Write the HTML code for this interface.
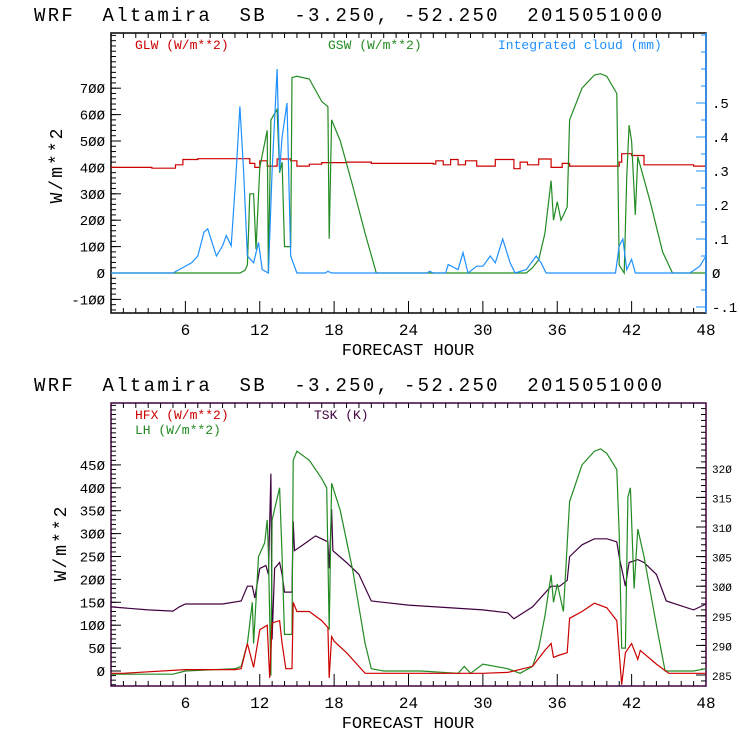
<!DOCTYPE html>
<html><head><meta charset="utf-8"><style>
body{margin:0;background:#fff}
svg{display:block}
text{font-family:"Liberation Mono",monospace}
</style></head><body>
<svg id="c" width="740" height="740" xmlns="http://www.w3.org/2000/svg"></svg>
<script>
// ---- data (hours, values) ----
const gswH=[0,10.4,10.8,11,11.2,11.5,11.7,12,12.6,12.7,12.9,13.4,13.6,13.8,14.0,14.5,14.6,15,16,17,17.5,17.6,17.8,18.5,19.5,20.5,21.4,33.5,34,34.5,35,35.5,35.7,36,36.3,36.8,37,38,39,39.5,40,40.8,41,41.4,41.6,41.8,42,42.3,42.5,43.5,44.5,45.3,48];
const gswV=[0,0,10,30,300,300,90,400,540,0,580,620,380,420,100,100,740,745,735,650,630,130,580,500,330,150,0,0,20,50,150,350,200,270,200,250,580,700,750,755,745,680,30,0,360,560,500,220,440,270,80,0,0];
const cldH=[0,5,5.5,6.5,7,7.5,7.8,8.5,9,9.3,9.7,10.1,10.4,10.7,11,11.5,11.9,12.2,12.7,13,13.4,13.6,13.8,14.2,14.5,15,17.3,17.5,17.8,25.5,25.7,26,27,27.2,28,28.4,28.8,29.5,30,30.6,31,31.6,32.2,32.6,33.5,34.3,34.7,35.1,40.7,41,41.3,41.6,42,42.3,46.7,47.5,48];
const cldV=[0,0,0.01,0.03,0.05,0.12,0.13,0.05,0.08,0.11,0.08,0.3,0.49,0.3,0.05,0.03,0.09,0.01,0,0.3,0.6,0.3,0.4,0.5,0.05,0,0,0.005,0,0,0.005,0,0,0.025,0.01,0.06,0,0.02,0.02,0.05,0.03,0.1,0.03,0,0.01,0.05,0.03,0,0,0.08,0.1,0.01,0.04,0,0,0.02,0.05];
const glwH=[0,3.3,5,5.2,5.8,7,10.8,11.2,11.6,12,12.6,13.4,14.5,15,16,17,19,21,26,26.2,26.8,27.4,28,28.6,29.5,31,32.5,33,33.6,34.5,35.5,36.4,37,41,41.2,42,42.5,43,47,48];
const glwV=[400,397,397,410,430,433,433,415,400,425,405,432,425,405,412,418,420,415,413,425,410,430,410,425,405,430,395,420,410,432,400,415,405,420,452,445,445,410,405,430];
const hfxH=[0,1,6,10,10.5,11,11.5,12,12.6,12.8,13,13.6,13.8,14.1,14.6,14.7,15,16,17,17.5,17.6,17.8,18,19,20,20.5,25,30,32,34,35,35.5,35.7,36.2,36.8,37,38,39,40,40.8,41,41.2,41.5,42,42.5,42.7,44,45,48];
const hfxV=[-5,-5,3,3,5,60,8,90,100,-15,105,110,60,5,5,150,130,130,110,95,-15,75,65,40,10,-5,-5,-5,-3,10,45,60,30,35,40,115,130,148,138,110,40,-30,40,60,25,45,15,-5,-5];
const lhH=[0,5,6,10,10.5,11,11.4,11.5,11.9,12.4,12.6,12.7,12.9,13,13.6,13.8,14,14.6,14.7,15,16,17,17.4,17.6,17.8,18.5,19.5,20.5,21,22,25,28,28.5,29,30,32,33,34,34.5,35,35.5,35.7,36,36.5,37,38,39,39.5,40,40.8,41,41.2,41.5,41.7,41.9,42.2,42.5,43,44,44.7,47,48];
const lhV=[-7,-7,0,5,10,60,150,60,250,280,330,260,-10,330,400,250,80,80,460,480,460,420,400,90,410,350,220,60,5,0,0,-5,10,-5,15,5,-5,10,50,120,210,150,190,130,370,450,480,485,475,440,300,50,50,380,400,180,310,250,100,0,0,5];
const tskH=[0,3,5,5.5,6,9,10.5,11,11.4,11.6,12,12.5,12.7,12.9,13,13.2,13.6,13.8,14,14.6,14.7,14.8,15.5,16.5,17.5,17.6,17.8,17.9,19,20,21,24,30,32,32.5,34,35.5,36.2,36.8,37,38,39,40,40.8,41,41.5,41.8,42.5,43,44,44.8,47,48];
const tskV=[296.5,296,295.8,296.5,297,297,297.5,300,300,298,303,303.5,302,319,291,303,304,302,299,299,311,306,307,308.5,307.5,303,313,306,304,302,297.5,296.8,296,295.5,294.5,296.5,300,300,301,305,307,308,308,307.5,305,300,304,304.5,304,302,297.5,296,297];
const topLeftTicks=[-100,0,100,200,300,400,500,600,700];
const topRightTicks=[-0.1,0,0.1,0.2,0.3,0.4,0.5];
const botLeftTicks=[0,50,100,150,200,250,300,350,400,450];
const botRightTicks=[285,290,295,300,305,310,315,320];
const xTicks=[6,12,18,24,30,36,42,48];

const svg=document.getElementById('c');
const NS='http://www.w3.org/2000/svg';
function add(tag,attrs,parent){const e=document.createElementNS(NS,tag);for(const k in attrs)e.setAttribute(k,attrs[k]);(parent||svg).appendChild(e);return e;}
const X0=111,X1=706;
const xs=h=>X0+(X1-X0)*h/48;
function stepPath(H,V,fy){let d='';for(let i=0;i<H.length;i++){const x=xs(H[i]).toFixed(1),y=fy(V[i]).toFixed(1);if(i==0)d='M'+x+' '+y;else{d+=' H'+x+' V'+y;}if(i==H.length-1)d+=' H'+xs(48).toFixed(1);}return d;}
function linePath(H,V,fy){return H.map((h,i)=>(i?'L':'M')+xs(h).toFixed(1)+' '+fy(V[i]).toFixed(1)).join(' ');}

function panel(o){
  const g=add('g',{});
  
  
  const t=add('text',{x:34,y:o.top-12,'font-size':19,fill:'#000','letter-spacing':'2.3',style:'white-space:pre'},g);
  t.textContent='WRF  Altamira  SB  -3.250, -52.250  2015051000';
  
  const box=add('rect',{x:X0,y:o.top,width:X1-X0,height:o.bot-o.top,fill:'none',stroke:o.boxc,'stroke-width':1.5},g);
  
  for(let h=1;h<48;h++){const x=xs(h);const L=h%6==0?12:5;
    add('line',{x1:x,x2:x,y1:o.bot,y2:o.bot-L,stroke:'#000'},g);
    add('line',{x1:x,x2:x,y1:o.top,y2:o.top+5,stroke:'#000'},g);}
  xTicks.forEach(h=>{const t=add('text',{x:xs(h),y:o.bot+22,'font-size':16,'text-anchor':'middle'},g);t.textContent=h;
    });
  const xt=add('text',{x:408,y:o.bot+42,'font-size':17,'text-anchor':'middle'},g);xt.textContent='FORECAST HOUR';
  
  const yt=add('text',{x:0,y:0,'font-size':18,'text-anchor':'middle','letter-spacing':'2',transform:`translate(${o.ytx},${o.yty}) rotate(-90)`},g);yt.textContent='W/m**2';
  
  o.lt.forEach(v=>{const y=o.yl(v);add('line',{x1:X0,x2:X0+10,y1:y,y2:y,stroke:'#000'},g);
    const t=add('text',{x:X0-6,y:y+5,'font-size':14,'text-anchor':'end'},g);t.textContent=String(v).replace(/0/g,'Ø');
    });
  for(let v=o.lmin;v<=o.lmax;v+=o.lminor){const y=o.yl(v);if(y>o.top&&y<o.bot)add('line',{x1:X0,x2:X0+5,y1:y,y2:y,stroke:'#000'},g);}
  o.rt.forEach(v=>{const y=o.yr(v);add('line',{x1:X1-10,x2:X1,y1:y,y2:y,stroke:o.rc},g);
    const t=add('text',{x:X1+6,y:y+5,'font-size':o.rfs,fill:'#000'},g);t.textContent=o.rfmt(v);
    });
  for(let v=o.rmin;v<=o.rmax+1e-9;v+=o.rminor){const y=o.yr(v);if(y>o.top&&y<o.bot)add('line',{x1:X1-5,x2:X1,y1:y,y2:y,stroke:o.rc},g);}
  o.series.forEach(s=>{const p=add('path',{d:s.d,fill:'none',stroke:s.c,'stroke-width':1.2},g);
    });
  o.legend.forEach(l=>{const t=add('text',{x:l.x,y:l.y,'font-size':13,fill:l.c,'font-family':'Liberation Serif'},g);t.textContent=l.t;
    });
}
const tyl=v=>273-v*0.264, tyr=v=>273-v*340;
panel({name:'top-chart',top:33,bot:313,boxc:'#000',yl:tyl,yr:tyr,lt:topLeftTicks,rt:topRightTicks,lmin:-140,lmax:900,lminor:20,rmin:-0.1,rmax:0.7,rminor:0.05,rc:'#1e90ff',rfs:14,
 rfmt:v=>v==0?'Ø':String(v).replace('0.','.'),ytx:62,yty:165,
 series:[{name:'glw-line',c:'#cc0000',d:stepPath(glwH,glwV,tyl)},{name:'gsw-line',c:'#228b22',d:linePath(gswH,gswV,tyl)},{name:'cloud-line',c:'#1e90ff',d:linePath(cldH,cldV,tyr)}],
 legend:[{x:135,y:49,c:'#cc0000',t:'GLW (W/m**2)'},{x:328,y:49,c:'#228b22',t:'GSW (W/m**2)'},{x:498,y:49,c:'#1e90ff',t:'Integrated cloud (mm)'}]});
add('line',{x1:X1,x2:X1,y1:33,y2:313,stroke:'#1e90ff','stroke-width':1.5});
const byl=v=>671-v*0.458, byr=v=>675-(v-285)*5.92;
panel({name:'bottom-chart',top:403,bot:686,boxc:'#400040',yl:byl,yr:byr,lt:botLeftTicks,rt:botRightTicks,lmin:-30,lmax:600,lminor:10,rmin:283,rmax:330,rminor:1,rc:'#000',rfs:11,
 rfmt:v=>String(v).replace(/0/g,'Ø'),ytx:66,yty:543,
 series:[{name:'tsk-line',c:'#400040',d:linePath(tskH,tskV,byr)},{name:'lh-line',c:'#228b22',d:linePath(lhH,lhV,byl)},{name:'hfx-line',c:'#cc0000',d:linePath(hfxH,hfxV,byl)}],
 legend:[{x:135,y:419,c:'#cc0000',t:'HFX (W/m**2)'},{x:135,y:434,c:'#228b22',t:'LH  (W/m**2)'},{x:314,y:419,c:'#400040',t:'TSK (K)'}]});
</script>
</body></html>
